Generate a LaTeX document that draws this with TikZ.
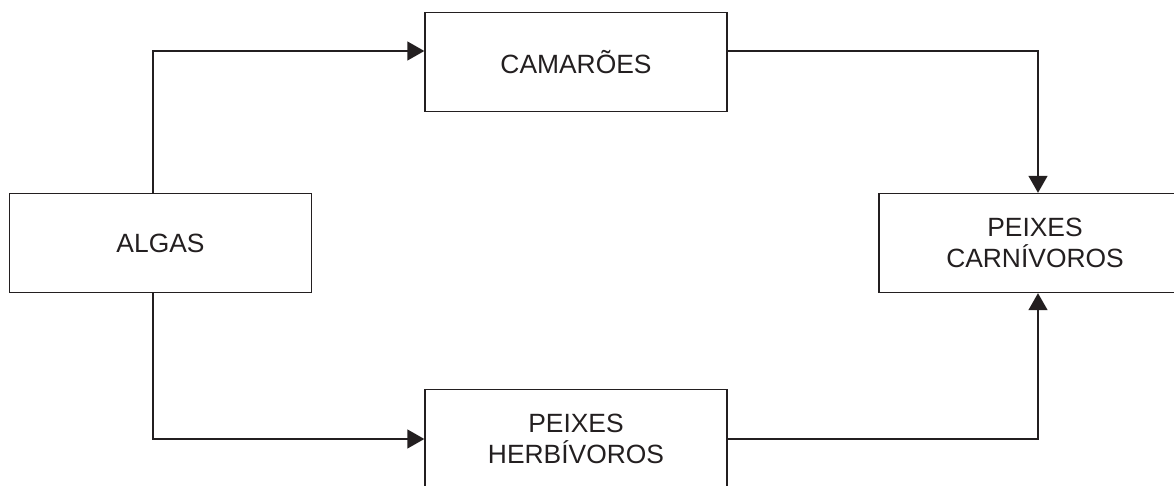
\documentclass[tikz,border=0pt]{standalone}
\usepackage{fontspec}
\setmainfont{Liberation Sans}
\usepackage{tikz}
\usetikzlibrary{arrows.meta}
\definecolor{ink}{RGB}{35,31,32}

\begin{document}
\begin{tikzpicture}[x=0.5pt,y=-0.5pt,
    box/.style={draw=ink, line width=0.7pt, text=ink, align=center,
      minimum width=151pt, minimum height=49.5pt, inner sep=0pt,
      font=\fontsize{13.2}{15.5}\selectfont},
    flow/.style={draw=ink, line width=0.7pt, -{Triangle[length=8.5pt,width=9.5pt]}}]
    \useasboundingbox (0,0) rectangle (1174,486);
    % Food chain boxes
    \node[box] (algas) at (160.5,243) {ALGAS};
    \node[box] (camaroes) at (576,62) {CAMARÕES};
    \node[box] (herbivoros) at (576,439) {PEIXES\\HERBÍVOROS};
    \node[box, minimum width=156pt] (carnivoros) at (1035,243) {PEIXES\\CARNÍVOROS};
    %
    % Upper branch
    \draw[flow] ([xshift=-3.75pt]algas.north) |- ([yshift=5.5pt]camaroes.west);
    \draw[flow] ([yshift=5.5pt]camaroes.east) -| ([xshift=1.5pt]carnivoros.north);
    % Lower branch
    \draw[flow] ([xshift=-3.75pt]algas.south) |- (herbivoros.west);
    \draw[flow] (herbivoros.east) -| ([xshift=1.5pt]carnivoros.south);
\end{tikzpicture}
\end{document}
